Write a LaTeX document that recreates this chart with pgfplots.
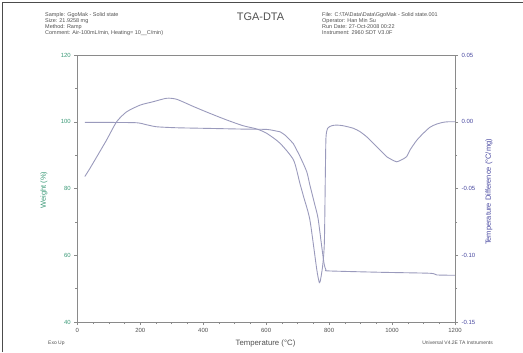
\documentclass[border=0pt]{standalone}
\usepackage{pgfplots}
\pgfplotsset{compat=1.18}
\usepackage{fontspec}
\setmainfont{Liberation Sans}
\definecolor{curve}{HTML}{9A9ABC}
\definecolor{wgreen}{HTML}{3C9A78}
\definecolor{dblue}{HTML}{4848A0}
\definecolor{axgray}{HTML}{8A8A8A}
\definecolor{txt}{HTML}{505050}

\pgfplotstableread{
x d
24 -0.041
40 -0.035
62 -0.0262
93 -0.0137
125 0.0000
157 0.0075
200 0.0125
241 0.0150
284 0.0176
316 0.0168
370 0.0113
421 0.0063
475 0.0013
527 -0.0030
570 -0.0054
602 -0.0087
644 -0.0161
687 -0.0287
707 -0.0460
720 -0.0570
739 -0.0736
761 -0.1110
769 -0.1205
773 -0.1180
780 -0.1070
785 -0.0900
788 -0.0400
790 -0.0120
795 -0.0050
808 -0.0030
824 -0.0025
845 -0.0030
877 -0.0049
898 -0.0074
919 -0.0112
940 -0.0161
962 -0.0212
983 -0.0262
1000 -0.0285
1015 -0.0300
1030 -0.0285
1046 -0.0262
1057 -0.0212
1078 -0.0140
1099 -0.0087
1121 -0.0040
1142 -0.0017
1163 -0.0004
1179 0.0000
1200 0.0000
}\dta

\pgfplotstableread{
x w
24 99.8
100 99.8
189 99.7
220 99.1
252 98.5
316 98.2
422 98.0
527 97.8
602 97.7
633 97.2
644 97.0
660 96.0
676 94.5
686 93.5
708 89.5
729 85.0
739 81.0
755 75.0
765 71.0
776 63.0
784 57.5
790 55.6
800 55.3
962 54.9
1121 54.6
1142 54.1
1200 54.0
}\tga

\begin{document}
\begin{tikzpicture}[x=1bp,y=1bp]
\useasboundingbox (0,0) rectangle (523,352);
\draw[gray!60!black, line width=1.2bp] (2.5,0) -- (2.5,349.5) -- (523,349.5);

\begin{axis}[
  at={(77.3bp,30bp)}, anchor=south west, scale only axis,
  width=377.7bp, height=267bp,
  xmin=0, xmax=1200, ymin=40, ymax=120,
  xtick={0,200,400,600,800,1000,1200},
  ytick={40,60,80,100,120},
  minor x tick num=3, minor y tick num=1,
  xtick pos=bottom, ytick pos=left, tick align=outside,
  major tick length=3bp, minor tick length=2bp,
  axis line style={axgray, line width=0.6bp},
  every tick/.style={axgray, line width=0.5bp},
  ticklabel style={font=\fontsize{6}{7}\selectfont},
  xticklabel style={text=txt},
  yticklabel style={text=wgreen},
  /pgf/number format/assume math mode=true,
  /pgf/number format/1000 sep={},
]
\addplot[curve, line width=0.9bp, smooth, tension=0.4] table[x=x, y=w] {\tga};
\end{axis}

\begin{axis}[
  at={(77.3bp,30bp)}, anchor=south west, scale only axis,
  width=377.7bp, height=267bp,
  xmin=0, xmax=1200, ymin=-0.15, ymax=0.05,
  axis x line=none, axis y line*=right,
  ytick={-0.15,-0.1,-0.05,0,0.05},
  minor y tick num=1, tick align=outside,
  major tick length=3bp, minor tick length=2bp,
  axis line style={axgray, line width=0.6bp},
  every tick/.style={axgray, line width=0.5bp},
  ticklabel style={font=\fontsize{6}{7}\selectfont},
  yticklabel style={text=dblue, /pgf/number format/.cd, fixed, fixed zerofill, precision=2},
  /pgf/number format/assume math mode=true,
]
\addplot[curve, line width=0.9bp, smooth, tension=0.4] table[x=x, y=d] {\dta};
\end{axis}

\node[font=\fontsize{11}{12}\selectfont, text=txt] at (260.5,335) {TGA-DTA};
\node[font=\fontsize{5.5}{6}\selectfont, text=txt, anchor=north west, align=left, inner sep=0pt] at (45,340)
  {Sample: GgoMak - Solid state\\Size: 21.9258 mg\\Method: Ramp\\Comment: Air-100mL/min, Heating= 10\_\_C/min)};
\node[font=\fontsize{5.5}{6}\selectfont, text=txt, anchor=north west, align=left, inner sep=0pt] at (322,340)
  {File: C:\textbackslash TA\textbackslash Data\textbackslash Data\textbackslash GgoMak - Solid state.001\\Operator: Han Min Su\\Run Date: 27-Oct-2008 00:22\\Instrument: 2960 SDT V3.0F};
\node[font=\fontsize{5}{6}\selectfont, text=txt, anchor=west, inner sep=0pt] at (48,9) {Exo Up};
\node[font=\fontsize{5}{6}\selectfont, text=txt, anchor=east, inner sep=0pt] at (493,9) {Universal V4.2E TA Instruments};
\node[font=\fontsize{7.8}{9}\selectfont, text=txt] at (265.5,9) {Temperature (°C)};
\node[font=\fontsize{7.5}{9}\selectfont, text=wgreen, rotate=90] at (44,162) {Weight (\%)};
\node[font=\fontsize{7.5}{9}\selectfont, text=dblue, rotate=90] at (489,160) {Temperature Difference (°C/mg)};
\end{tikzpicture}
\end{document}
